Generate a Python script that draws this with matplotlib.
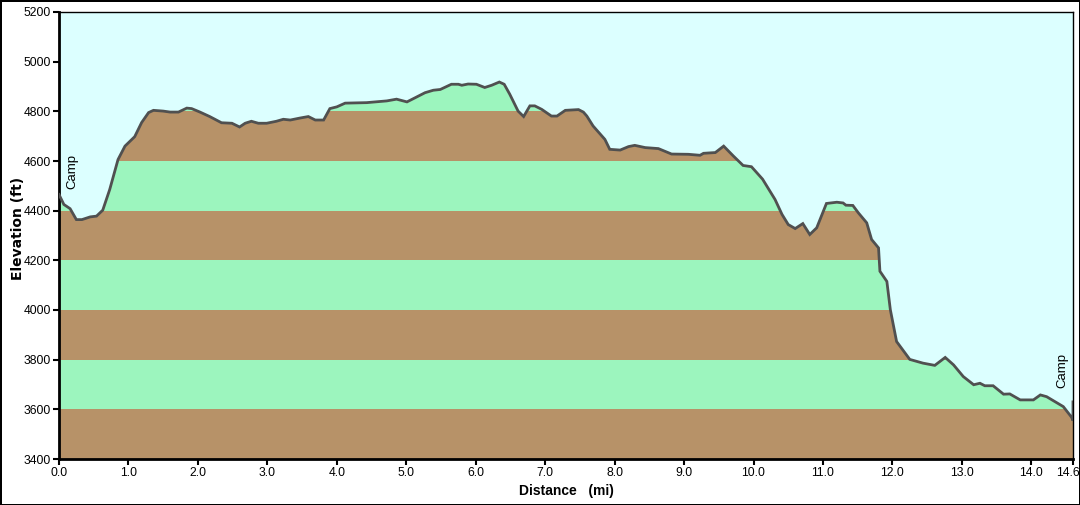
import matplotlib
matplotlib.use("Agg")
import matplotlib.pyplot as plt
from matplotlib.patches import PathPatch
from matplotlib.transforms import ScaledTranslation
import numpy as np

plt.rcParams['font.family'] = ['Liberation Sans', 'DejaVu Sans']

# Profile data
distance_mi = [0.00, 0.07, 0.16, 0.25, 0.33, 0.45, 0.54, 0.63, 0.73, 0.85, 0.95, 1.09, 1.19,
               1.29, 1.36, 1.50, 1.60, 1.72, 1.84, 1.91, 2.03, 2.17, 2.34, 2.49, 2.60, 2.68,
               2.77, 2.87, 2.99, 3.13, 3.23, 3.33, 3.47, 3.59, 3.69, 3.81, 3.90, 4.00, 4.12,
               4.43, 4.72, 4.86, 5.01, 5.13, 5.27, 5.39, 5.49, 5.65, 5.75, 5.80, 5.89, 6.01,
               6.13, 6.23, 6.34, 6.41, 6.49, 6.61, 6.69, 6.78, 6.85, 6.95, 7.09, 7.17, 7.29,
               7.48, 7.55, 7.60, 7.69, 7.86, 7.93, 8.08, 8.20, 8.29, 8.44, 8.63, 8.82, 9.06,
               9.23, 9.28, 9.45, 9.57, 9.71, 9.85, 9.97, 10.13, 10.31, 10.41, 10.50, 10.60,
               10.71, 10.81, 10.91, 11.05, 11.20, 11.29, 11.33, 11.43, 11.51, 11.63, 11.70,
               11.80, 11.82, 11.92, 11.97, 12.06, 12.25, 12.44, 12.61, 12.76, 12.88, 13.02,
               13.17, 13.26, 13.33, 13.45, 13.60, 13.69, 13.84, 14.03, 14.13, 14.22, 14.46,
               14.58, 14.60, 14.60]
elevation_ft = [4465, 4425, 4408, 4364, 4364, 4375, 4378, 4402, 4485, 4606, 4660, 4698, 4755,
                4795, 4804, 4801, 4797, 4797, 4813, 4811, 4797, 4779, 4754, 4752, 4737, 4752,
                4760, 4752, 4752, 4760, 4768, 4765, 4773, 4779, 4765, 4765, 4811, 4818, 4833,
                4835, 4842, 4849, 4838, 4855, 4875, 4885, 4888, 4909, 4909, 4905, 4910, 4909,
                4896, 4905, 4918, 4909, 4869, 4801, 4779, 4822, 4822, 4808, 4781, 4781, 4804,
                4807, 4797, 4781, 4741, 4687, 4647, 4644, 4658, 4663, 4654, 4650, 4628, 4627,
                4623, 4631, 4634, 4660, 4620, 4582, 4577, 4527, 4445, 4385, 4344, 4328,
                4348, 4304, 4331, 4429, 4434, 4431, 4422, 4421, 4391, 4351, 4284,
                4250, 4156, 4115, 4001, 3873, 3801, 3786, 3777, 3809, 3779, 3732,
                3699, 3705, 3695, 3695, 3661, 3662, 3638, 3638, 3658, 3651, 3611,
                3568, 3555, 3630]

camp_labels = ["Camp", "Camp"]
camp_x = [0.19, 14.44]
camp_y = [4558, 3755]

x_ticks = [0, 1, 2, 3, 4, 5, 6, 7, 8, 9, 10, 11, 12, 13, 14, 14.6]
x_ticklabels = ["0.0", "1.0", "2.0", "3.0", "4.0", "5.0", "6.0", "7.0", "8.0", "9.0",
                "10.0", "11.0", "12.0", "13.0", "14.0", "14.6"]
y_ticks = [3400, 3600, 3800, 4000, 4200, 4400, 4600, 4800, 5000, 5200]

sky = '#DCFFFF'
brown = '#B79268'
green = '#9CF5BE'
line_c = '#505050'

fig = plt.figure(figsize=(10.8, 5.05), dpi=100)
fig.patch.set_facecolor('white')
fig.patch.set_edgecolor('black')
fig.patch.set_linewidth(2)

ax = fig.add_axes([59/1080, (505-459)/505, (1073-59)/1080, (459-12)/505])
ax.set_facecolor(sky)
ax.set_xlim(0, 14.6)
ax.set_ylim(3400, 5200)

x = np.array(distance_mi)
y = np.array(elevation_ft)

poly = ax.fill_between(x, 3400, y, color='none', lw=0)
clip = poly.get_paths()[0]
clip_patch = PathPatch(clip, transform=ax.transData, facecolor='none', edgecolor='none')
ax.add_patch(clip_patch)

for i, lo in enumerate(range(3400, 5200, 200)):
    c = brown if i % 2 == 0 else green
    band = ax.axhspan(lo, lo + 200, color=c, lw=0, zorder=1)
    band.set_clip_path(clip_patch)

ax.plot(x, y, color=line_c, lw=2, zorder=3, solid_joinstyle='miter')

for lab, cx, cy in zip(camp_labels, camp_x, camp_y):
    ax.text(cx, cy, lab, rotation=90, ha='center', va='center', fontsize=9.5,
            color='black', zorder=4)

ax.set_xticks(x_ticks)
ax.set_xticklabels(x_ticklabels)
ax.set_yticks(y_ticks)
ax.tick_params(axis='both', direction='out', length=4, width=1.5, labelsize=8.7, pad=2,
               colors='black')

last = ax.get_xticklabels()[-1]
last.set_transform(last.get_transform() + ScaledTranslation(-5/100, 0, fig.dpi_scale_trans))

for s in ['left', 'bottom']:
    ax.spines[s].set_linewidth(2)
for s in ['top', 'right']:
    ax.spines[s].set_linewidth(1)

ax.set_xlabel('Distance   (mi)', fontsize=10, fontweight='bold')
ax.set_ylabel('Elevation (ft)', fontsize=10, fontweight='bold', family=['DejaVu Sans'])
ax.xaxis.set_label_coords(0.5, -0.056)
ax.yaxis.set_label_coords(-0.034, 0.516)

fig.savefig('out.png', dpi=100)
